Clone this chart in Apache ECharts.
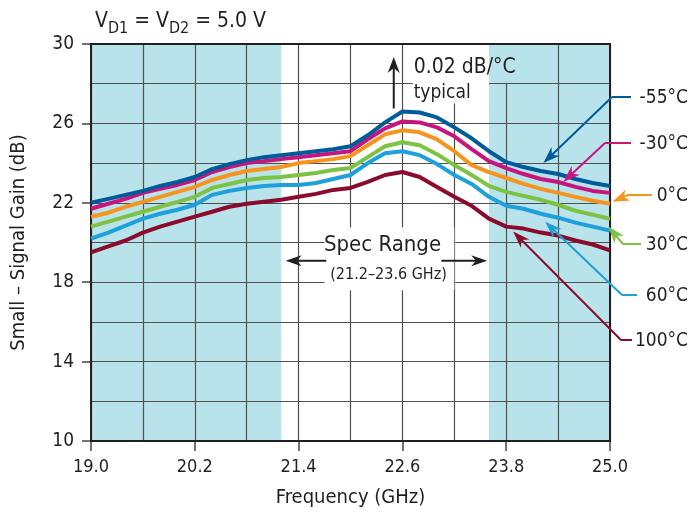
<!DOCTYPE html>
<html>
<head>
<meta charset="utf-8">
<script src="https://cdn.jsdelivr.net/npm/echarts@6/dist/echarts.min.js"></script>
<style>
  html, body { margin: 0; padding: 0; background: #fff; }
  #main { width: 691px; height: 521px; }
</style>
</head>
<body>
<div id="main"></div>
<script>
// frequency points (GHz)
const freq = [19.0, 19.2, 19.4, 19.6, 19.8, 20.0, 20.2, 20.4, 20.6, 20.8, 21.0,
  21.2, 21.4, 21.6, 21.8, 22.0, 22.2, 22.4, 22.6, 22.8, 23.0,
  23.2, 23.4, 23.6, 23.8, 24.0, 24.2, 24.4, 24.6, 24.8, 25.0];

// small-signal gain (dB) per temperature
const gainM55 = [22.0, 22.2, 22.4, 22.6, 22.85, 23.05, 23.3, 23.7, 23.95, 24.15, 24.3,
  24.4, 24.5, 24.6, 24.7, 24.85, 25.4, 26.05, 26.6, 26.55, 26.3,
  25.8, 25.25, 24.6, 24.05, 23.8, 23.6, 23.45, 23.2, 23.0, 22.85];
const gainM30 = [21.7, 21.95, 22.2, 22.5, 22.7, 22.9, 23.15, 23.55, 23.8, 24.0, 24.1,
  24.2, 24.3, 24.4, 24.5, 24.6, 25.2, 25.75, 26.1, 26.05, 25.8,
  25.35, 24.7, 24.1, 23.75, 23.45, 23.2, 23.05, 22.8, 22.6, 22.5];
const gain0 = [21.3, 21.5, 21.8, 22.05, 22.3, 22.55, 22.8, 23.15, 23.4, 23.6, 23.7,
  23.8, 24.0, 24.1, 24.2, 24.35, 24.9, 25.45, 25.65, 25.55, 25.2,
  24.6, 23.9, 23.55, 23.25, 22.95, 22.7, 22.5, 22.3, 22.1, 21.95];
const gain30 = [20.8, 21.05, 21.3, 21.55, 21.8, 22.05, 22.3, 22.75, 22.95, 23.15, 23.25,
  23.3, 23.4, 23.5, 23.65, 23.75, 24.3, 24.85, 25.05, 24.9, 24.45,
  23.9, 23.4, 22.85, 22.55, 22.35, 22.15, 21.9, 21.6, 21.4, 21.2];
const gain60 = [20.2, 20.5, 20.85, 21.2, 21.45, 21.65, 21.9, 22.4, 22.6, 22.75, 22.85,
  22.9, 22.9, 23.0, 23.2, 23.4, 24.0, 24.5, 24.6, 24.4, 23.95,
  23.4, 22.95, 22.3, 21.85, 21.7, 21.45, 21.25, 21.0, 20.8, 20.6];
const gain100 = [19.5, 19.8, 20.1, 20.5, 20.8, 21.05, 21.3, 21.55, 21.8, 21.95, 22.05,
  22.15, 22.3, 22.45, 22.65, 22.75, 23.05, 23.4, 23.55, 23.3, 22.8,
  22.3, 21.85, 21.2, 20.8, 20.7, 20.5, 20.35, 20.1, 19.9, 19.6];

const tempLabels = ['-55°C', '-30°C', '0°C', '30°C', '60°C', '100°C'];
const gains = [gainM55, gainM30, gain0, gain30, gain60, gain100];
const specBands = [[19.0, 21.2], [23.6, 25.0]];

const colors = ['#005b9a', '#c8157e', '#f7941d', '#7dc243', '#1ea0dc', '#8b0b2d'];
const FONT = '"Liberation Sans Narrow", "DejaVu Sans Condensed", "Roboto Condensed", sans-serif';
const SHADE = '#b9e3ea';
const GRIDC = '#505050';

const chart = echarts.init(document.getElementById('main'));

const series = gains.map((g, i) => ({
  name: tempLabels[i],
  type: 'line',
  data: freq.map((f, k) => [f, g[k]]),
  showSymbol: false,
  z: 2 + (5 - i) * 0.01,
  lineStyle: { width: 4, color: colors[i] },
  itemStyle: { color: colors[i] }
}));
series.push({
  type: 'line',
  data: [],
  markArea: {
    silent: true,
    itemStyle: { color: SHADE },
    data: specBands.map(b => [{ xAxis: b[0] }, { xAxis: b[1] }])
  }
});

chart.setOption({
  animation: false,
  textStyle: { fontFamily: FONT },
  title: {
    left: 90, top: 4,
    text: 'V{s|D1} = V{s|D2} = 5.0 V',
    textStyle: {
      fontFamily: FONT, fontSize: 21, fontWeight: 'normal', color: '#231f20',
      lineHeight: 26,
      rich: { s: { fontFamily: FONT, fontSize: 16, lineHeight: 16, padding: [13, 0, 0, 0], color: '#231f20' } }
    }
  },
  grid: { left: 91, right: 81, top: 44, bottom: 80, show: true, borderColor: '#231f20', borderWidth: 2, z: 1.6 },
  xAxis: {
    type: 'value', min: 19, max: 25, interval: 1.2, z: 1.5,
    name: 'Frequency (GHz)', nameLocation: 'middle', nameGap: 47,
    nameTextStyle: { fontFamily: FONT, fontSize: 20, color: '#231f20' },
    axisLine: { lineStyle: { color: '#231f20', width: 2 } },
    axisTick: { show: true, length: 10, lineStyle: { color: '#444', width: 1.5 } },
    axisLabel: { margin: 17, fontFamily: FONT, fontSize: 18, color: '#231f20', formatter: v => v.toFixed(1) },
    splitLine: { show: true, lineStyle: { color: GRIDC, width: 1.2 } },
    minorTick: { show: false, splitNumber: 2 },
    minorSplitLine: { show: true, lineStyle: { color: GRIDC, width: 1.2 } }
  },
  yAxis: {
    type: 'value', min: 10, max: 30, interval: 4, z: 1.5,
    name: 'Small – Signal Gain (dB)', nameLocation: 'middle', nameGap: 62,
    nameTextStyle: { fontFamily: FONT, fontSize: 20, color: '#231f20' },
    axisLine: { show: true, lineStyle: { color: '#231f20', width: 2 } },
    axisTick: { show: true, length: 9, lineStyle: { color: '#444', width: 1.5 } },
    axisLabel: { margin: 17, fontFamily: FONT, fontSize: 19, color: '#231f20' },
    splitLine: { show: true, lineStyle: { color: GRIDC, width: 1.2 } },
    minorTick: { show: false, splitNumber: 2 },
    minorSplitLine: { show: true, lineStyle: { color: GRIDC, width: 1.2 } }
  },
  series: series
});

// ---- annotations ----
const px = (f, g) => chart.convertToPixel({ gridIndex: 0 }, [f, g]);

function arrowHead(from, tip, len, half, color, z) {
  const dx = tip[0] - from[0], dy = tip[1] - from[1];
  const d = Math.hypot(dx, dy) || 1;
  const ux = dx / d, uy = dy / d, nx = -uy, ny = ux;
  const bx = tip[0] - ux * len, by = tip[1] - uy * len;
  const mx = tip[0] - ux * len * 0.7, my = tip[1] - uy * len * 0.7;
  return {
    type: 'polygon', z: z, silent: true,
    shape: { points: [tip, [bx + nx * half, by + ny * half], [mx, my], [bx - nx * half, by - ny * half]] },
    style: { fill: color }
  };
}

function arrow(from, tip, color, width, len, half, z) {
  const dx = tip[0] - from[0], dy = tip[1] - from[1];
  const d = Math.hypot(dx, dy) || 1;
  const end = [tip[0] - dx / d * len * 0.6, tip[1] - dy / d * len * 0.6];
  return [
    { type: 'line', z: z, silent: true, shape: { x1: from[0], y1: from[1], x2: end[0], y2: end[1] }, style: { stroke: color, lineWidth: width } },
    arrowHead(from, tip, len, half, color, z)
  ];
}

const els = [];
const ink = '#231f20';

// white boxes behind the notes
const b1a = px(22.72, 29.95), b1b = px(23.6, 27.0);
els.push({ type: 'rect', z: 1.7, silent: true, shape: { x: b1a[0], y: b1a[1], width: b1b[0] - b1a[0], height: b1b[1] - b1a[1] }, style: { fill: '#fff' } });
const b2a = px(23.6, 29.95), b2b = px(23.95, 28.05);
els.push({ type: 'rect', z: 1.7, silent: true, shape: { x: b2a[0], y: b2a[1], width: b2b[0] - b2a[0], height: b2b[1] - b2a[1] }, style: { fill: SHADE } });
const b3a = px(21.7, 20.75), b3b = px(23.2, 17.6);
els.push({ type: 'rect', z: 1.7, silent: true, shape: { x: b3a[0], y: b3a[1], width: b3b[0] - b3a[0], height: b3b[1] - b3a[1] }, style: { fill: '#fff' } });

// 0.02 dB/°C note
els.push(...arrow(px(22.5, 26.75), px(22.5, 29.35), ink, 2, 16, 6, 3));
const t1 = px(22.73, 28.8), t2 = px(22.73, 27.55);
els.push({ type: 'text', z: 3, silent: true, x: t1[0], y: t1[1], style: { text: '0.02 dB/°C', font: '21px ' + FONT, fill: ink, verticalAlign: 'middle' } });
els.push({ type: 'text', z: 3, silent: true, x: t2[0], y: t2[1], style: { text: 'typical', font: '19px ' + FONT, fill: ink, verticalAlign: 'middle' } });

// spec range note
const s1 = px(22.37, 19.87), s2 = px(22.44, 18.36);
els.push({ type: 'text', z: 3, silent: true, x: s1[0], y: s1[1], style: { text: 'Spec Range', font: '22px ' + FONT, fill: ink, align: 'center', verticalAlign: 'middle' } });
els.push({ type: 'text', z: 3, silent: true, x: s2[0], y: s2[1], style: { text: '(21.2–23.6 GHz)', font: '16px ' + FONT, fill: ink, align: 'center', verticalAlign: 'middle' } });
els.push(...arrow(px(21.72, 19.08), px(21.25, 19.08), ink, 2, 16, 5.5, 3));
els.push(...arrow(px(23.05, 19.08), px(23.58, 19.08), ink, 2, 16, 5.5, 3));

// temperature callouts
const callouts = [
  { ly: 97, x0: 631, x1: 612, tip: [24.23, 24.0] },
  { ly: 143, x0: 631, x1: 605, tip: [24.46, 23.05] },
  { ly: 195, x0: 652, x1: 628, tip: [25.03, 22.05] },
  { ly: 244, x0: 641, x1: 623, tip: [24.98, 20.8] },
  { ly: 295, x0: 637, x1: 622, tip: [24.25, 21.05] },
  { ly: 340, x0: 632, x1: 621, tip: [23.88, 20.55] }
];
callouts.forEach((c, i) => {
  const col = colors[i];
  els.push({ type: 'line', z: 3, silent: true, shape: { x1: c.x0, y1: c.ly, x2: c.x1, y2: c.ly }, style: { stroke: col, lineWidth: 2 } });
  els.push(...arrow([c.x1, c.ly], px(c.tip[0], c.tip[1]), col, 2, 17, 6, 3));
  els.push({ type: 'text', z: 3, silent: true, x: 688, y: c.ly + 1, style: { text: tempLabels[i], font: '19px ' + FONT, fill: ink, align: 'right', verticalAlign: 'middle' } });
});

chart.setOption({ graphic: { elements: els } });
</script>
</body>
</html>
